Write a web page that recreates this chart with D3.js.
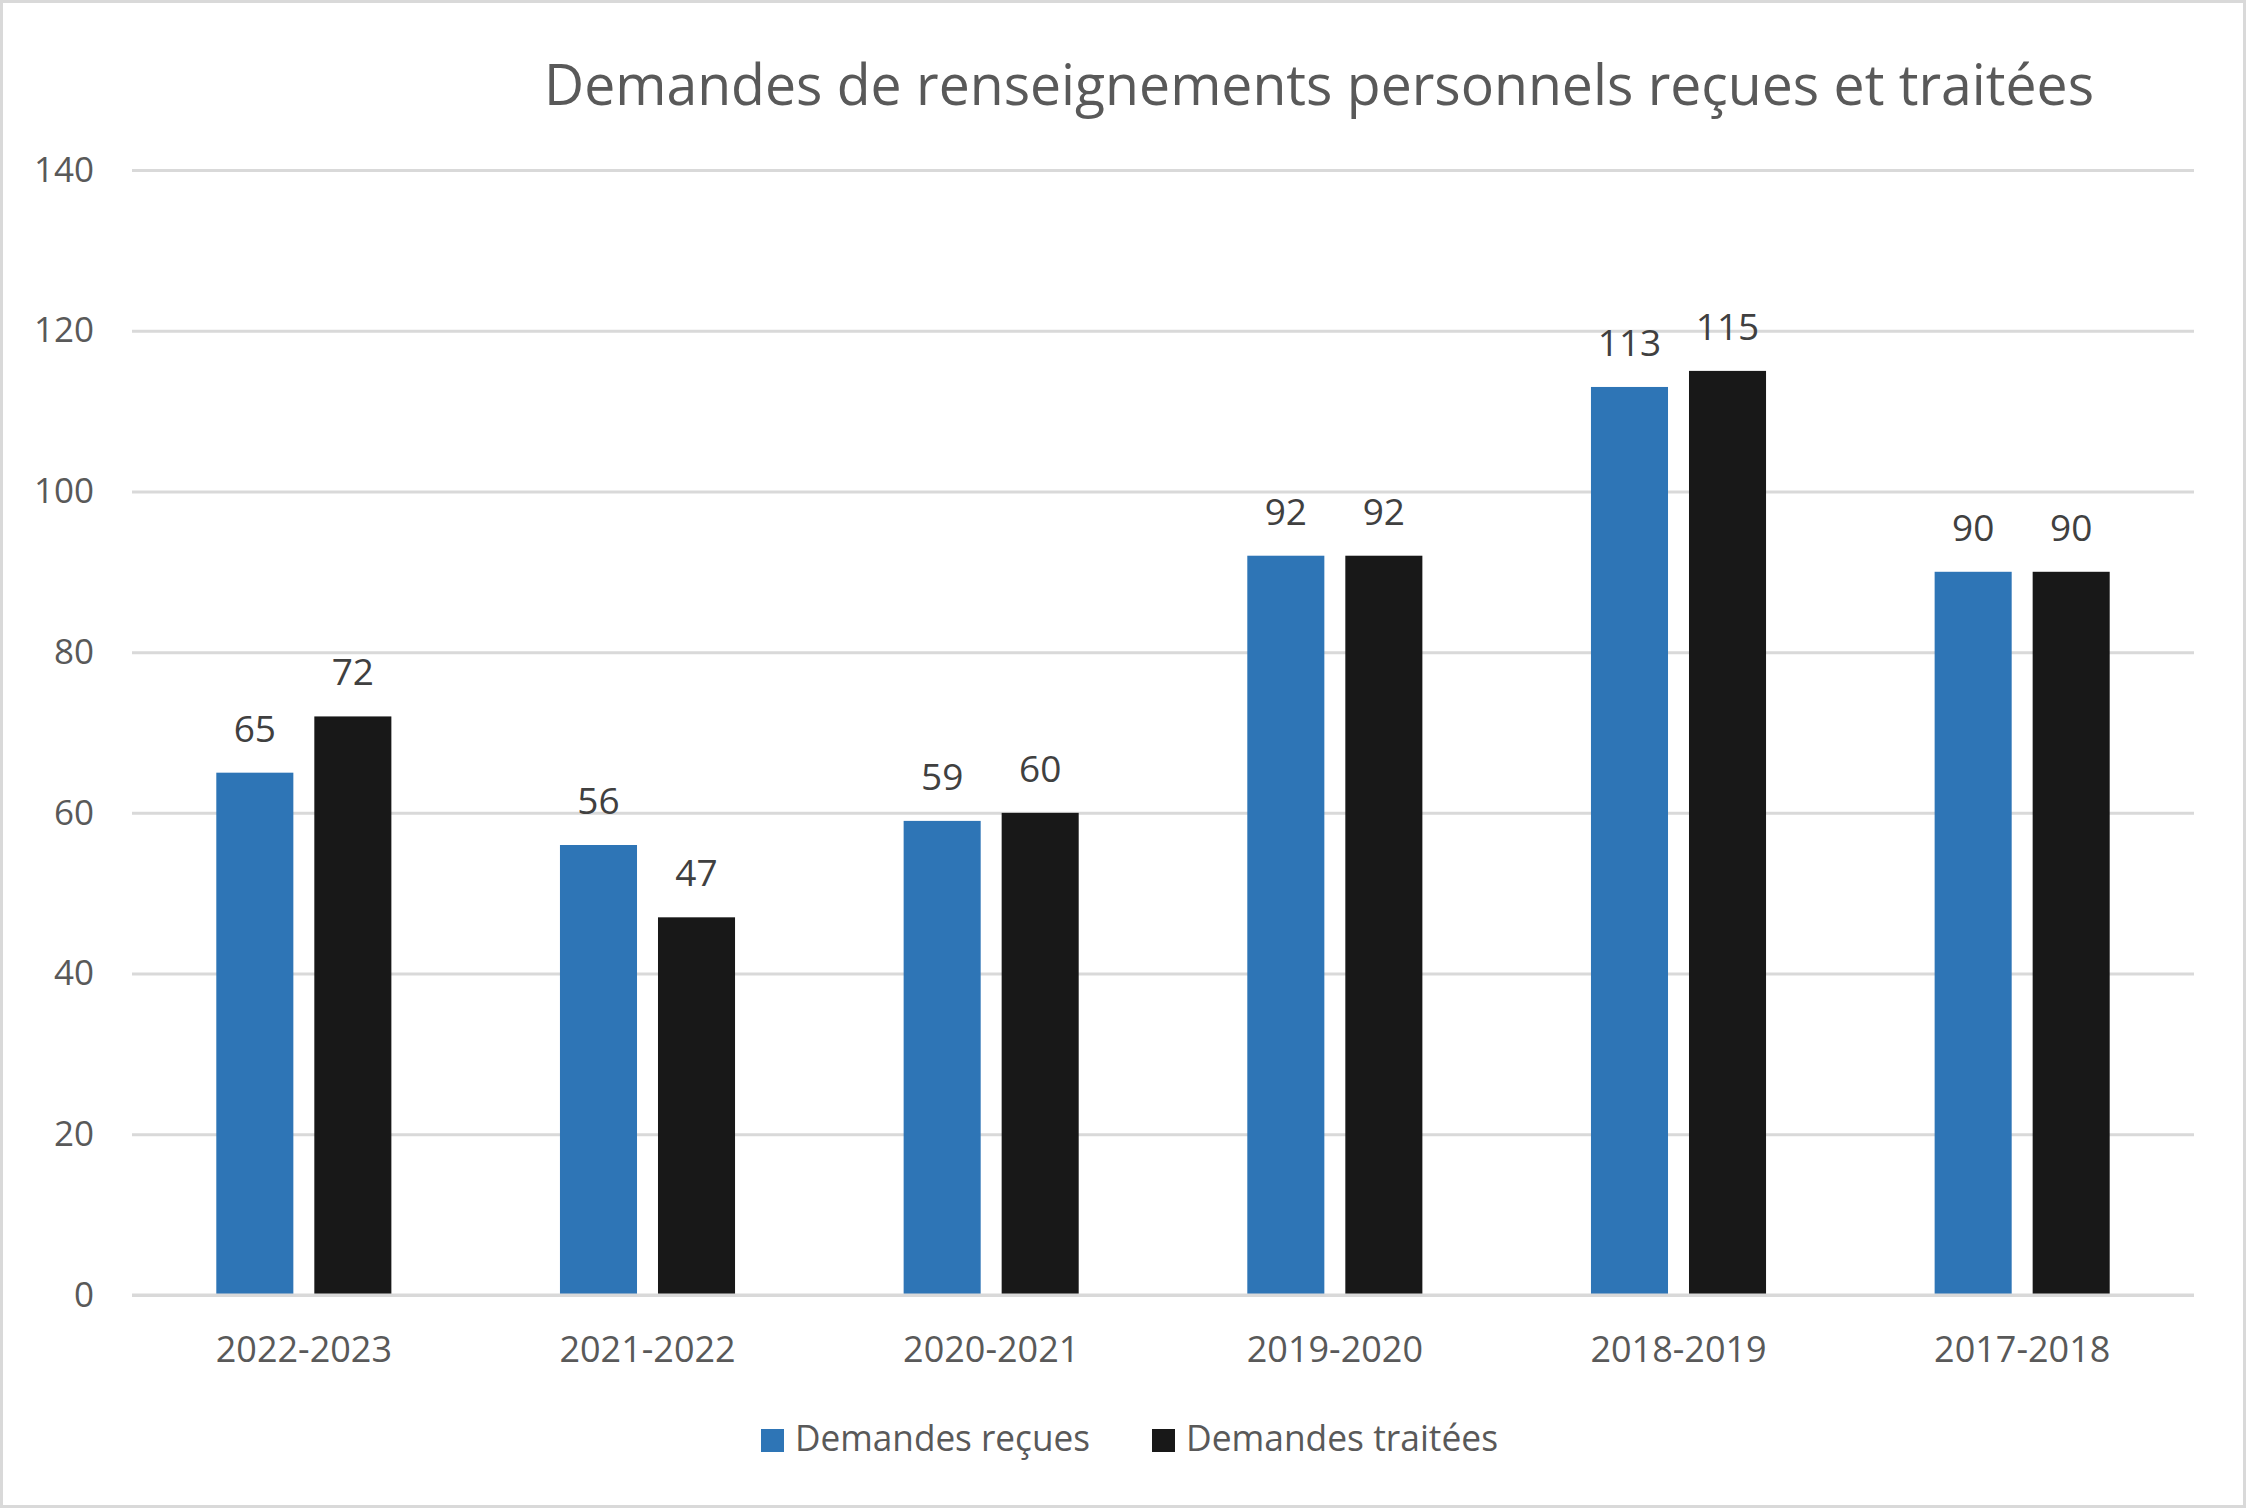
<!DOCTYPE html>
<html><head><meta charset="utf-8">
<script src="https://cdn.jsdelivr.net/npm/d3@7"></script>
<style>html,body{margin:0;padding:0;background:#fff}</style>
</head><body>
<svg id="c" width="2246" height="1508"></svg>
<script>
const categories = ["2022-2023","2021-2022","2020-2021","2019-2020","2018-2019","2017-2018"];
const recues = [65,56,59,92,113,90];
const traitees = [72,47,60,92,115,90];
const yTicks = [0,20,40,60,80,100,120,140];
const seriesNames = ["Demandes reçues","Demandes traitées"];
const seriesColors = ["#2E75B6","#181818"];
const titleText = "Demandes de renseignements personnels reçues et traitées";

const W=2246,H=1508;
const svg=d3.select("#c");
const font="'Open Sans','Noto Sans',sans-serif";
svg.append("rect").attr("x",1.5).attr("y",1.5).attr("width",W-3).attr("height",H-3)
  .attr("fill","#fff").attr("stroke","#d9d9d9").attr("stroke-width",3);

const L=132,R=2194,T=170,B=1295;
const x0=d3.scaleBand().domain(categories).range([L,R]);
const x1=d3.scaleBand().domain([0,1]).range([0,x0.bandwidth()]).paddingInner(0.214).paddingOuter(0.86);
const y=d3.scaleLinear().domain([0,140]).range([B,T]);

// gridlines
const yAxis=d3.axisLeft(y).tickValues(yTicks).tickSize(-(R-L)).tickFormat(d3.format("d")).tickPadding(38);
const gy=svg.append("g").attr("transform",`translate(${L},0)`).call(yAxis);
gy.select(".domain").remove();
gy.selectAll(".tick line").attr("stroke","#d9d9d9").attr("stroke-width",3);
gy.selectAll(".tick text").attr("fill","#595959").attr("font-family",font).attr("font-size",35);

// bars
const data=categories.map((c,i)=>({c,v:[recues[i],traitees[i]]}));
const g=svg.append("g");
data.forEach(d=>{
  d.v.forEach((v,s)=>{
    const bx=x0(d.c)+x1(s);
    g.append("rect").attr("x",bx).attr("y",y(v)).attr("width",x1.bandwidth()).attr("height",B-y(v)).attr("fill",seriesColors[s]);
    g.append("text").attr("x",bx+x1.bandwidth()/2).attr("y",y(v)-31).attr("text-anchor","middle")
      .attr("font-family",font).attr("font-size",37).attr("fill","#404040").text(v);
  });
});

// x axis
const xAxis=d3.axisBottom(x0).tickSize(0).tickPadding(0);
const gx=svg.append("g").attr("transform",`translate(0,${B})`).call(xAxis);
gx.select(".domain").remove();
gx.selectAll(".tick text").attr("dy",null).attr("y",67).attr("fill","#595959").attr("font-family",font).attr("font-size",36);
svg.append("line").attr("x1",L).attr("x2",R).attr("y1",B).attr("y2",B).attr("stroke","#d9d9d9").attr("stroke-width",3);

// title
svg.append("text").attr("x",544).attr("y",105).attr("font-family",font).attr("font-size",57)
  .attr("fill","#595959").attr("textLength",1550).attr("lengthAdjust","spacingAndGlyphs").text(titleText);

// legend
const legX=[761,1152], legTextX=[795,1186], legTextLen=[295,312];
seriesNames.forEach((n,i)=>{
  svg.append("rect").attr("x",legX[i]).attr("y",1429).attr("width",23).attr("height",23).attr("fill",seriesColors[i]);
  svg.append("text").attr("x",legTextX[i]).attr("y",1451).attr("font-family",font).attr("font-size",37)
    .attr("fill","#595959").attr("textLength",legTextLen[i]).attr("lengthAdjust","spacingAndGlyphs").text(n);
});
</script>
</body></html>
